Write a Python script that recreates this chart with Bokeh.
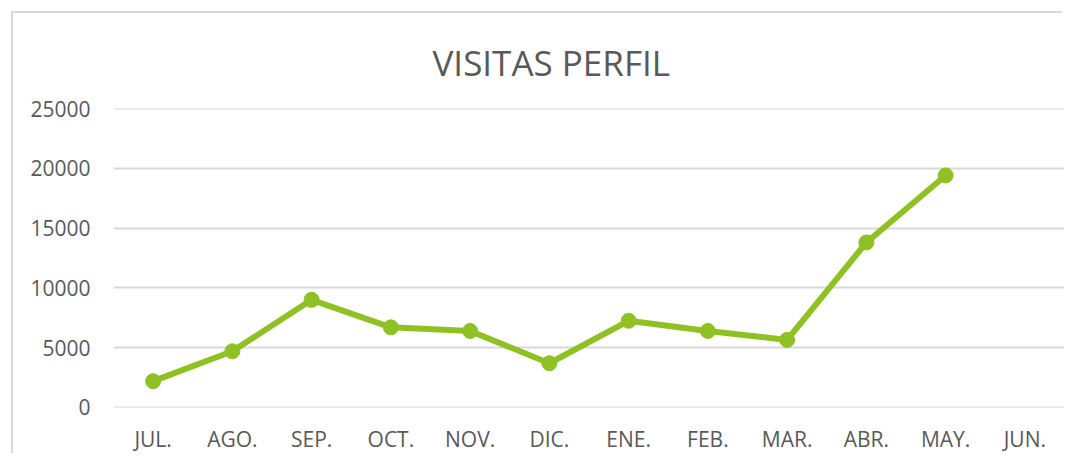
from bokeh.plotting import figure
from bokeh.models import FactorRange, Range1d, Title, InlineStyleSheet, FixedTicker
from bokeh.embed import file_html
from bokeh.resources import INLINE

months = ["JUL.", "AGO.", "SEP.", "OCT.", "NOV.", "DIC.", "ENE.", "FEB.", "MAR.", "ABR.", "MAY.", "JUN."]
months_with_data = ["JUL.", "AGO.", "SEP.", "OCT.", "NOV.", "DIC.", "ENE.", "FEB.", "MAR.", "ABR.", "MAY."]
visitas = [2200, 4700, 9000, 6700, 6400, 3700, 7250, 6400, 5650, 13800, 19400]
y_ticks = [0, 5000, 10000, 15000, 20000, 25000]
title_text = "VISITAS PERFIL"

GREEN = "#8fc125"
GRID = "#d9d9d9"
TEXT = "#595959"
FONT = "Open Sans"

p = figure(
    x_range=FactorRange(*months, range_padding=0),
    y_range=Range1d(-1, 25001),
    width=1051, height=442,
    output_backend="svg", toolbar_location=None,
    min_border_left=100, min_border_right=0,
    min_border_top=94, min_border_bottom=44,
)
p.margin = (13, 0, 0, 13)
p.stylesheets = [InlineStyleSheet(css=":host { box-shadow: -2px -2px 0 0 #d9d9d9; }")]

p.title = Title(text=title_text, align="left", offset=319,
                text_font=FONT, text_font_size="35px", text_font_style="normal",
                text_color=TEXT, standoff=46)

p.line(months_with_data, visitas, line_color=GREEN, line_width=6)
p.scatter(months_with_data, visitas, size=15, fill_color=GREEN, line_color=GREEN)

p.outline_line_color = None
p.xgrid.grid_line_color = None
p.ygrid.grid_line_color = GRID
p.ygrid.grid_line_width = 2
p.yaxis.ticker = FixedTicker(ticks=y_ticks)

for ax in (p.xaxis, p.yaxis):
    ax.axis_line_color = None
    ax.major_tick_line_color = None
    ax.minor_tick_line_color = None
    ax.major_tick_out = 0
    ax.major_tick_in = 0
    ax.minor_tick_out = 0
    ax.major_label_text_font = FONT
    ax.major_label_text_font_size = "21px"
    ax.major_label_text_color = TEXT

p.xaxis.major_label_standoff = 17
p.yaxis.major_label_standoff = 23

open("out.html", "w").write(file_html(p, INLINE))
